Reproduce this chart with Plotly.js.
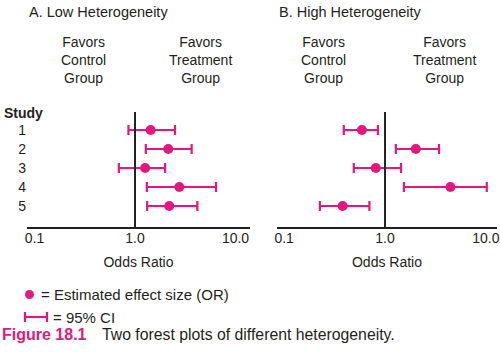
<!DOCTYPE html>
<html>
<head>
<meta charset="utf-8">
<script src="https://cdn.plot.ly/plotly-3.0.1.min.js"></script>
<style>html,body{margin:0;padding:0;background:#fff;}#chart{width:500px;height:353px;}</style>
</head>
<body>
<div id="chart"></div>
<script>
// ---- Data ----
const studies = ['1', '2', '3', '4', '5'];
// Panel A: Low heterogeneity
const orA = [1.43, 2.14, 1.26, 2.76, 2.19];
const loA = [0.86, 1.28, 0.69, 1.31, 1.32];
const hiA = [2.50, 3.66, 1.99, 6.40, 4.17];
// Panel B: High heterogeneity
const orB = [0.59, 2.02, 0.81, 4.45, 0.38];
const loB = [0.39, 1.28, 0.49, 1.54, 0.226];
const hiB = [0.85, 3.43, 1.44, 10.2, 0.70];
// Axis ticks
const tickVals = [0.1, 1, 10];
const tickText = ['0.1', '1.0', '10.0'];

const MAG = '#e4177e';
const INK = '#231f20';
const FONT = 'Liberation Sans, Arial, sans-serif';
const W = 500, H = 353;
const px = x => x / W;
const py = y => 1 - y / H;

function forestTrace(or, lo, hi, xa, ya) {
  return {
    type: 'scatter', mode: 'markers',
    x: or, y: studies, xaxis: xa, yaxis: ya,
    marker: {color: MAG, size: 10},
    error_x: {
      type: 'data', symmetric: false,
      array: hi.map((h, i) => h - or[i]),
      arrayminus: lo.map((l, i) => or[i] - l),
      color: MAG, thickness: 2.2, width: 5
    },
    hoverinfo: 'x+y', showlegend: false
  };
}

const data = [
  forestTrace(orA, loA, hiA, 'x', 'y'),
  forestTrace(orB, loB, hiB, 'x2', 'y2')
];

const xBase = {
  type: 'log', showgrid: false, zeroline: false,
  showline: true, linecolor: INK, linewidth: 2,
  ticks: '', tickvals: tickVals, ticktext: tickText,
  ticklabelstandoff: -3,
  tickfont: {family: FONT, size: 14, color: INK},
  title: {text: 'Odds Ratio', font: {family: FONT, size: 14, color: INK}, standoff: 12},
  fixedrange: true
};
const yBase = {
  type: 'category', range: [5.105, -0.947], domain: [py(227), py(112)],
  showgrid: false, zeroline: false, showline: false, ticks: '',
  tickfont: {family: FONT, size: 14, color: INK}, fixedrange: true
};

const ann = (x, y, text, opts = {}) => Object.assign({
  xref: 'paper', yref: 'paper', x: px(x), y: py(y), text: text,
  showarrow: false, xanchor: 'center', yanchor: 'middle',
  font: {family: FONT, size: 14, color: INK}
}, opts);

const layout = {
  width: W, height: H,
  margin: {l: 0, r: 0, t: 0, b: 0},
  paper_bgcolor: '#fff', plot_bgcolor: '#fff',
  showlegend: false,
  xaxis: Object.assign({}, xBase, {domain: [px(27), px(250)], range: [-1.075, 1.144], anchor: 'y'}),
  yaxis: Object.assign({}, yBase, {anchor: 'x', showticklabels: true}),
  xaxis2: Object.assign({}, xBase, {domain: [px(277), px(497)], range: [-1.071, 1.11], anchor: 'y2'}),
  yaxis2: Object.assign({}, yBase, {anchor: 'x2', showticklabels: false}),
  shapes: [
    {type: 'line', xref: 'x', yref: 'y domain', x0: 1, x1: 1, y0: 0, y1: 1, line: {color: INK, width: 2}},
    {type: 'line', xref: 'x2', yref: 'y2 domain', x0: 1, x1: 1, y0: 0, y1: 1, line: {color: INK, width: 2}},
    // legend symbols
    {type: 'circle', xref: 'paper', yref: 'paper', x0: px(25), x1: px(34), y0: py(290), y1: py(299), fillcolor: MAG, line: {width: 0}},
    {type: 'line', xref: 'paper', yref: 'paper', x0: px(25), x1: px(47), y0: py(317), y1: py(317), line: {color: MAG, width: 2.2}},
    {type: 'line', xref: 'paper', yref: 'paper', x0: px(25), x1: px(25), y0: py(312), y1: py(322), line: {color: MAG, width: 2.2}},
    {type: 'line', xref: 'paper', yref: 'paper', x0: px(47), x1: px(47), y0: py(312), y1: py(322), line: {color: MAG, width: 2.2}}
  ],
  annotations: [
    ann(27, 12, 'A. Low Heterogeneity', {xanchor: 'left', font: {family: FONT, size: 14.5, color: INK}}),
    ann(277, 12, 'B. High Heterogeneity', {xanchor: 'left', font: {family: FONT, size: 14.5, color: INK}}),
    ann(83, 60, 'Favors<br>Control<br>Group'),
    ann(200, 60, 'Favors<br>Treatment<br>Group'),
    ann(323, 60, 'Favors<br>Control<br>Group'),
    ann(444, 60, 'Favors<br>Treatment<br>Group'),
    ann(2, 113, '<b>Study</b>', {xanchor: 'left'}),
    ann(39, 294, '= Estimated effect size (OR)', {xanchor: 'left', font: {family: FONT, size: 15, color: INK}}),
    ann(51, 317, '= 95% CI', {xanchor: 'left', font: {family: FONT, size: 15, color: INK}}),
    ann(0, 334, '<b>Figure 18.1</b>', {xanchor: 'left', font: {family: FONT, size: 16, color: MAG}}),
    ann(100, 334, 'Two forest plots of different heterogeneity.', {xanchor: 'left', font: {family: FONT, size: 15.8, color: INK}})
  ]
};

Plotly.newPlot('chart', data, layout, {displayModeBar: false, staticPlot: true});
</script>
</body>
</html>
